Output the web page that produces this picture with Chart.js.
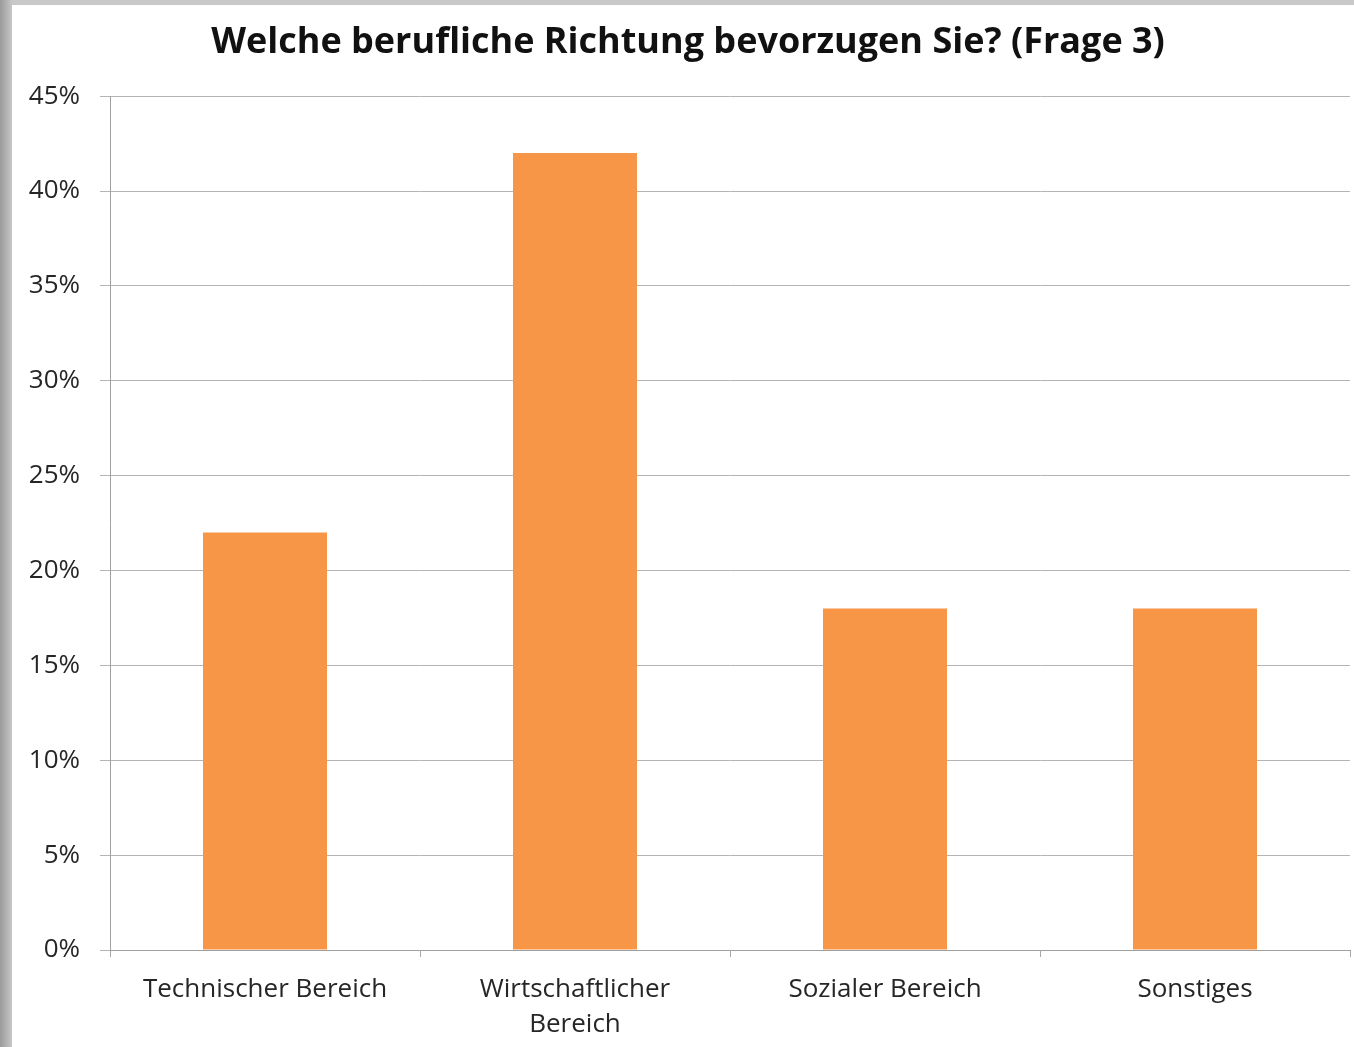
<!DOCTYPE html>
<html>
<head>
<meta charset="utf-8">
<script src="https://cdn.jsdelivr.net/npm/chart.js@4"></script>
<style>
  html, body { margin: 0; padding: 0; }
  body { width: 1354px; height: 1047px; background: linear-gradient(to right, #9a9a9a 0px, #b8b8b8 8px, #c8c8c8 12px); overflow: hidden; position: relative; }
  #wrap { position: absolute; left: 12px; top: 5px; width: 1342px; height: 1042px; background: #ffffff; }
  canvas { display: block; }
</style>
</head>
<body>
<div id="wrap"><canvas id="c" width="1342" height="1042"></canvas></div>
<script>
const categories = ["Technischer Bereich", ["Wirtschaftlicher", "Bereich"], "Sozialer Bereich", "Sonstiges"];
const values = [22, 42, 18, 18];
const titleText = "Welche berufliche Richtung bevorzugen Sie? (Frage 3)";
const yMin = 0, yMax = 45, yStep = 5;

const FONT = "'Open Sans', Lato, sans-serif";

new Chart(document.getElementById('c'), {
  type: 'bar',
  data: {
    labels: categories,
    datasets: [{
      data: values,
      backgroundColor: '#F79646',
      borderWidth: 0,
      categoryPercentage: 1.0,
      barPercentage: 0.4
    }]
  },
  options: {
    responsive: false,
    animation: false,
    layout: { padding: { left: 14, right: 4, top: 0, bottom: 0 } },
    plugins: {
      legend: { display: false },
      tooltip: { enabled: false },
      title: {
        display: true,
        text: titleText,
        color: '#111111',
        font: { family: FONT, size: 36, weight: 'bold', lineHeight: 1.2 },
        padding: { top: 16, bottom: 32 }
      }
    },
    scales: {
      x: {
        grid: { display: true, drawOnChartArea: false, offset: true, tickLength: 7, color: '#a8a8a8', lineWidth: 1 },
        border: { display: true, color: '#a0a0a0', width: 1 },
        ticks: { color: '#262626', font: { family: FONT, size: 26, lineHeight: 1.35 }, padding: 15, maxRotation: 0, autoSkip: false },
        afterFit: (s) => { s.height = 97; }
      },
      y: {
        min: yMin, max: yMax,
        grid: { color: '#b4b4b4', lineWidth: 1, tickLength: 10 },
        border: { display: true, color: '#a0a0a0', width: 1 },
        ticks: { stepSize: yStep, color: '#262626', font: { family: FONT, size: 26 }, padding: 20,
          callback: (v) => v + '%' },
        afterFit: (s) => { s.width = 84; }
      }
    }
  }
});
</script>
</body>
</html>
